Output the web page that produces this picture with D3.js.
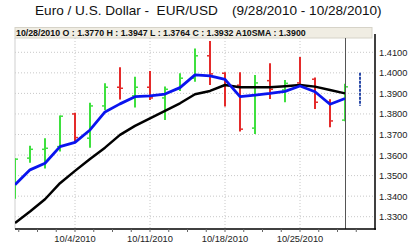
<!DOCTYPE html>
<html>
<head>
    <script src="https://cdn.jsdelivr.net/npm/d3@7/dist/d3.min.js"></script>
    <style>
        body { margin: 0; background: #fff; }
        text { font-family: 'Liberation Sans', Arial, sans-serif; white-space: pre; }
    </style>
</head>
<body>
    <svg width="410" height="244" id="mainsvg"></svg>
    <script>
        // trading days
        const dates = ['9/28/2010','9/29/2010','9/30/2010','10/1/2010','10/4/2010','10/5/2010','10/6/2010','10/7/2010',
            '10/8/2010','10/11/2010','10/12/2010','10/13/2010','10/14/2010','10/15/2010','10/18/2010','10/19/2010',
            '10/20/2010','10/21/2010','10/22/2010','10/25/2010','10/26/2010','10/27/2010','10/28/2010'];
        const opens  = [1.3450,1.3585,1.3628,1.3641,1.3800,1.3682,1.3839,1.3930,1.3888,1.3930,1.3878,1.3920,
            1.3974,1.4083,1.3998,1.3940,1.3731,1.3962,1.3917,1.3951,1.3969,1.3858,1.3770];
        const highs  = [1.3585,1.3645,1.3682,1.3792,1.3806,1.3855,1.3949,1.4027,1.3981,1.4009,1.3933,1.3998,
            1.4119,1.4155,1.4003,1.4003,1.3990,1.4047,1.3965,1.4077,1.3977,1.3871,1.3947];
        const lows   = [1.3387,1.3563,1.3535,1.3617,1.3662,1.3636,1.3819,1.3870,1.3831,1.3868,1.3771,1.3912,
            1.3957,1.3941,1.3836,1.3714,1.3703,1.3873,1.3857,1.3944,1.3824,1.3735,1.3764];
        const closes = [1.3580,1.3628,1.3633,1.3789,1.3685,1.3839,1.3930,1.3925,1.3930,1.3878,1.3920,1.3974,
            1.4083,1.3995,1.3940,1.3726,1.3951,1.3920,1.3949,1.3939,1.3857,1.3766,1.3932];
        // moving averages
        const sma5  = [1.3455,1.3528,1.3560,1.3641,1.3662,1.3722,1.3810,1.3849,1.3884,1.3888,1.3897,1.3928,
            1.3990,1.3985,1.3968,1.3884,1.3892,1.3900,1.3910,1.3936,1.3908,1.3847,1.3875];
        const sma10 = [1.3269,1.3325,1.3385,1.3463,1.3523,1.3581,1.3636,1.3698,1.3742,1.3779,1.3815,1.3852,
            1.3896,1.3912,1.3941,1.3930,1.3930,1.3930,1.3935,1.3941,1.3933,1.3917,1.3900];
        const yTicks = [1.33,1.34,1.35,1.36,1.37,1.38,1.39,1.40,1.41];
        const dateLabels = ['10/4/2010','10/11/2010','10/18/2010','10/25/2010'];
        const cursorRange = [1.3840, 1.4000];

        const svg = d3.select('#mainsvg');
        const pLeft = 15, pRight = 375, pTop = 38, pBottom = 229;

        const x = d3.scaleLinear().domain([0, 24]).range([pLeft, pRight]);
        const y = d3.scaleLinear().domain([1.33, 1.41]).range([216.7, 52.3]);

        // title
        svg.append('text').attr('x', 35).attr('y', 15).attr('font-size', 13.6).attr('fill', '#111')
            .text('Euro / U.S. Dollar -  EUR/USD');
        svg.append('text').attr('x', 232).attr('y', 15).attr('font-size', 13.6).attr('fill', '#111')
            .text('(9/28/2010 - 10/28/2010)');

        // header strip
        svg.append('rect').attr('x', pLeft).attr('y', 27.5).attr('width', 357).attr('height', 10.5)
            .attr('fill', '#f0ede3').attr('stroke', '#d6d3c8');
        const last = dates.length - 1;
        svg.append('text').attr('x', 16).attr('y', 36).attr('font-size', 8.8).attr('font-weight', 'bold')
            .attr('fill', '#111')
            .text(`${dates[last]} O : ${opens[last].toFixed(4)} H : ${highs[last].toFixed(4)} L : ${lows[last].toFixed(4)} C : ${closes[last].toFixed(4)} A10SMA : ${sma10[last].toFixed(4)}`);

        // grid
        const grid = svg.append('g');
        grid.selectAll('line.h').data(yTicks).join('line')
            .attr('x1', pLeft).attr('x2', pRight)
            .attr('y1', d => y(d)).attr('y2', d => y(d))
            .attr('stroke', '#c8c8c8').attr('stroke-dasharray', '1,2');
        grid.selectAll('line.v').data(dateLabels).join('line')
            .attr('x1', d => x(dates.indexOf(d))).attr('x2', d => x(dates.indexOf(d)))
            .attr('y1', pTop).attr('y2', pBottom)
            .attr('stroke', '#c8c8c8').attr('stroke-dasharray', '1,2');
        svg.append('line').attr('x1', pLeft).attr('x2', pLeft).attr('y1', pTop).attr('y2', pBottom)
            .attr('stroke', '#cfcfcf');

        svg.append('clipPath').attr('id', 'plot')
            .append('rect').attr('x', pLeft).attr('y', pTop).attr('width', pRight - pLeft).attr('height', pBottom - pTop);
        const plot = svg.append('g').attr('clip-path', 'url(#plot)');

        // OHLC bars
        const idx = d3.range(dates.length);
        const col = i => closes[i] >= opens[i] ? '#3ee03e' : '#e42a2a';
        const bars = plot.selectAll('g.bar').data(idx).join('g');
        bars.append('line')
            .attr('x1', i => x(i)).attr('x2', i => x(i))
            .attr('y1', i => y(highs[i])).attr('y2', i => y(lows[i]))
            .attr('stroke', col).attr('stroke-width', 2);
        bars.append('line')
            .attr('x1', i => x(i) - 3).attr('x2', i => x(i))
            .attr('y1', i => y(opens[i])).attr('y2', i => y(opens[i]))
            .attr('stroke', col).attr('stroke-width', 1.5);
        bars.append('line')
            .attr('x1', i => x(i)).attr('x2', i => x(i) + 3)
            .attr('y1', i => y(closes[i])).attr('y2', i => y(closes[i]))
            .attr('stroke', col).attr('stroke-width', 1.5);

        // moving averages
        const line = arr => d3.line().x((d, i) => x(i)).y(d => y(d))(arr);
        plot.append('path').attr('d', line(sma10)).attr('fill', 'none')
            .attr('stroke', '#000').attr('stroke-width', 2.5).attr('stroke-linejoin', 'round');
        plot.append('path').attr('d', line(sma5)).attr('fill', 'none')
            .attr('stroke', '#0a14ee').attr('stroke-width', 2.8).attr('stroke-linejoin', 'round');

        // cursor line and range marker
        svg.append('line').attr('x1', x(last) + 0.5).attr('x2', x(last) + 0.5).attr('y1', pTop).attr('y2', pBottom)
            .attr('stroke', '#555').attr('stroke-width', 1);
        svg.append('line').attr('x1', x(last + 1)).attr('x2', x(last + 1))
            .attr('y1', y(cursorRange[1])).attr('y2', y(cursorRange[0]))
            .attr('stroke', '#2a4aa8').attr('stroke-width', 2).attr('stroke-dasharray', '3,1');

        // axes
        svg.append('line').attr('x1', pLeft).attr('x2', pRight + 1).attr('y1', pBottom).attr('y2', pBottom)
            .attr('stroke', '#000').attr('stroke-width', 1.5);
        svg.append('line').attr('x1', pRight).attr('x2', pRight).attr('y1', 34).attr('y2', pBottom + 0.7)
            .attr('stroke', '#000').attr('stroke-width', 1.5);

        svg.selectAll('line.minor').data(d3.range(-3, 16)).join('line')
            .attr('x1', k => x(4) + k * 18.75).attr('x2', k => x(4) + k * 18.75)
            .attr('y1', pBottom).attr('y2', pBottom + 3)
            .attr('stroke', '#666');

        svg.selectAll('text.xl').data(dateLabels).join('text')
            .attr('x', d => x(dates.indexOf(d))).attr('y', 242)
            .attr('text-anchor', 'middle').attr('font-size', 9.3).attr('fill', '#222')
            .text(d => d);

        svg.selectAll('text.yl').data(yTicks).join('text')
            .attr('x', 379).attr('y', d => y(d) + 3.5)
            .attr('font-size', 9.3).attr('fill', '#222')
            .text(d => d.toFixed(4));
    </script>
</body>
</html>
